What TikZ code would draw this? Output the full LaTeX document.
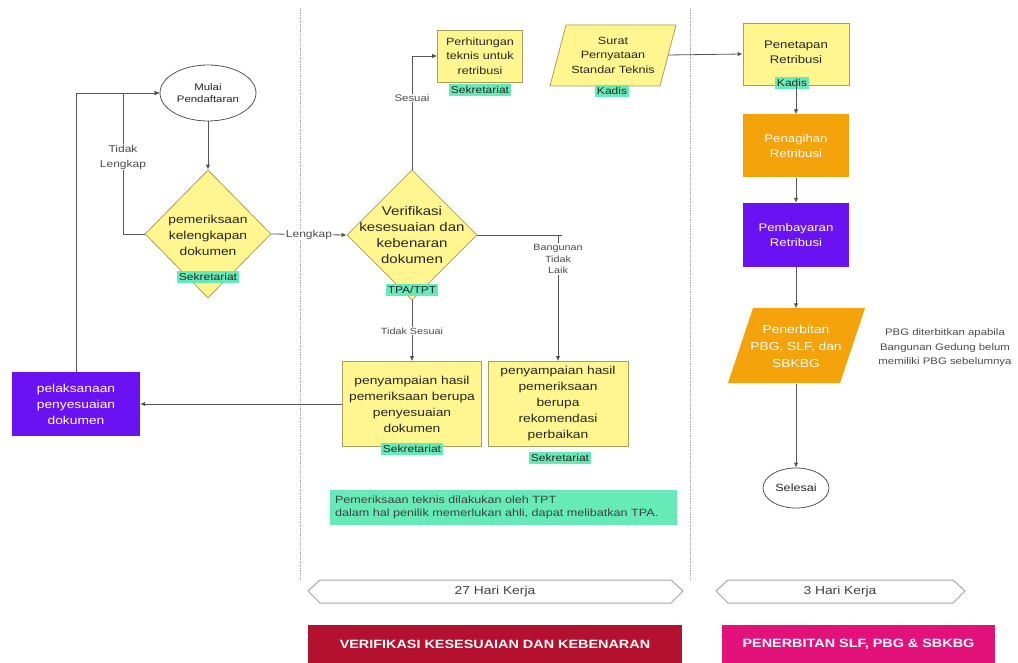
\documentclass[tikz,border=0pt]{standalone}
\usepackage{fontspec}
\setmainfont{Liberation Sans}[FakeStretch=1.2]
\usetikzlibrary{shapes.geometric,arrows.meta,calc}
\definecolor{yfill}{HTML}{FFF68F}
\definecolor{yline}{HTML}{A89D5A}
\definecolor{gfill}{HTML}{66EBB8}
\definecolor{ofill}{HTML}{F5A30A}
\definecolor{pfill}{HTML}{6A12F2}
\definecolor{rfill}{HTML}{B3112E}
\definecolor{mfill}{HTML}{E3127A}
\definecolor{ln}{HTML}{555555}
\begin{document}
\begin{tikzpicture}[x=1pt,y=-1pt,
  every node/.style={align=center, text=black!85},
  fsA/.style={font=\fontsize{9}{11.5}\selectfont},
  fsB/.style={font=\fontsize{9.5}{12}\selectfont},
  fsC/.style={font=\fontsize{10}{13}\selectfont},
  fsD/.style={font=\fontsize{10.5}{13}\selectfont},
  fsE/.style={font=\fontsize{10.5}{14.5}\selectfont},
  fsF/.style={font=\fontsize{11}{15}\selectfont},
  fsG/.style={font=\fontsize{11.5}{16}\selectfont},
  fsH/.style={font=\fontsize{11.5}{16}\selectfont},
  fsI/.style={font=\fontsize{12.5}{15.8}\selectfont},
  yel/.style={draw=yline, fill=yfill, line width=0.8pt, inner sep=0pt},
  gl/.style={fill=gfill, inner sep=2pt, fsC},
  obox/.style={fill=ofill, inner sep=0pt, minimum width=106pt, minimum height=63pt, text=white, fsF},
  pbox/.style={fill=pfill, inner sep=0pt, text=white},
  dia/.style={shape=diamond, draw=yline, fill=yfill, line width=0.8pt, inner sep=0pt},
  term/.style={shape=ellipse, draw=ln, fill=white, line width=0.8pt, inner sep=0pt},
  arr/.style={draw=ln, line width=0.8pt, -{Latex[length=5pt,width=4.5pt]}},
  lin/.style={draw=ln, line width=0.8pt},
  elab/.style={fill=white, inner sep=1pt, text=black!70},
  sep/.style={draw=gray!70, densely dotted, line width=0.8pt},
  hexa/.style={draw=gray!70, line width=1pt, fill=white},
  band/.style={inner sep=0pt, text=white, font=\bfseries\fontsize{12}{14}\selectfont}
]
\useasboundingbox (0,0) rectangle (1018,663);

% separators
\draw[sep] (300,8) -- (300,580);
\draw[sep] (690,8) -- (690,580);

% left column
\node[term, minimum width=96pt, minimum height=56pt, fsB] (start) at (208,93) {Mulai\\Pendaftaran};
\node[dia, minimum width=126pt, minimum height=128pt] (d1) at (208,234) {};
\node[fsG] (d1t) at (208,235) {pemeriksaan\\kelengkapan\\dokumen};
\node[gl] (d1l) at (208,277) {Sekretariat};

\node[pbox, minimum width=128pt, minimum height=64pt, fsH] (pel) at (76,404) {pelaksanaan\\penyesuaian\\dokumen};

% middle column
\node[dia, minimum width=130pt, minimum height=130pt] (d2) at (412,235) {};
\node[fsI] (d2t) at (412,235) {Verifikasi\\kesesuaian dan\\kebenaran\\dokumen};
\node[gl] (d2l) at (412,290) {TPA/TPT};

\node[yel, minimum width=85pt, minimum height=52pt, fsE] (perh) at (480,56) {Perhitungan\\teknis untuk\\retribusi};
\node[gl] (perhl) at (480,90) {Sekretariat};

% parallelogram Surat
\fill[yfill] (550,86) -- (566,25) -- (676,25) -- (660,86) -- cycle;
\draw[yline, line width=0.8pt] (550,86) -- (566,25) -- (676,25) -- (660,86) -- cycle;
\node[inner sep=0pt, minimum width=110pt, minimum height=60pt, fsE] (surat) at (613,55) {Surat\\Pernyataan\\Standar Teknis};
\node[gl] (suratl) at (612,91) {Kadis};

\node[yel, minimum width=139pt, minimum height=85pt, fsH] (h1) at (412,404) {penyampaian hasil\\pemeriksaan berupa\\penyesuaian\\dokumen};
\node[gl] (h1l) at (412,449) {Sekretariat};
\node[yel, minimum width=140pt, minimum height=85pt, fsH] (h2) at (558,404) {penyampaian hasil\\pemeriksaan\\berupa\\rekomendasi\\perbaikan};
\node[gl] (h2l) at (560,458) {Sekretariat};

\node[fill=gfill, inner sep=0pt, minimum width=347pt, minimum height=35pt] (note) at (503.5,507.5) {};
\node[inner sep=0pt, text width=337pt, align=left, fsD, text=black!75] (notet) at (note) {Pemeriksaan teknis dilakukan oleh TPT\\dalam hal penilik memerlukan ahli, dapat melibatkan TPA.};

% right column
\node[yel, minimum width=106pt, minimum height=62pt] (pen) at (796,54) {};
\node[fsF] (pent) at (796,52) {Penetapan\\Retribusi};
\node[gl] (penl) at (792,83) {Kadis};
\node[obox] (tag) at (796,146) {Penagihan\\Retribusi};
\node[pbox, minimum width=106pt, minimum height=64pt, fsF] (bayar) at (796,235) {Pembayaran\\Retribusi};

\fill[ofill] (728,383) -- (753,308) -- (865,308) -- (840,383) -- cycle;
\node[inner sep=0pt, minimum width=112pt, minimum height=75pt, text=white, font=\fontsize{11.5}{17}\selectfont] (terbit) at (796,346) {Penerbitan\\PBG, SLF, dan\\SBKBG};
\node[term, minimum width=66pt, minimum height=40pt, fsE] (end) at (796,488) {Selesai};

\node[font=\fontsize{9.5}{14.5}\selectfont, text=black!70] (ket) at (945,348) {PBG diterbitkan apabila\\Bangunan Gedung belum\\memiliki PBG sebelumnya};

% connectors
\draw[arr] (start) -- (d1);
\coordinate (lk) at (123,93);
\draw[arr] (d1.west) -| (lk) -- (start.west);
\node[elab, font=\fontsize{10}{15}\selectfont] (tl) at (123,157) {Tidak\\Lengkap};
\draw[arr] (pel.north) |- (start.west);
\draw[arr] (d1.east) -- node[elab, fsC] (lg) {Lengkap} (d2.west);
\draw[arr] (d2.north) |- (perh.west);
\node[elab, fsB] (ss) at (412,98) {Sesuai};
\draw[arr] (surat.east) -- (pen.west);
\draw[arr] (pen) -- (tag);
\draw[arr] (tag) -- (bayar);
\draw[arr] (bayar) -- (terbit);
\draw[arr] (terbit) -- (end);
\coordinate (bt) at (h2.north |- d2.east);
\draw[lin] (d2.east) -- ($(bt)+(4,0)$);
\draw[arr] (bt) -- (h2.north);
\node[elab, fsA] (btl) at (558,259) {Bangunan\\Tidak\\Laik};
\draw[arr] (d2.south) -- (d2.south |- h1.north);
\node[elab, fsA] (tsl) at (412,331) {Tidak Sesuai};
\draw[arr] (h1.west) -- (pel.east);

% bottom bands
\draw[hexa] (308,591) -- (320,580) -- (671,580) -- (683,591) -- (671,603) -- (320,603) -- cycle;
\node[fsG, text=black!75] (hk1) at (495,592) {27 Hari Kerja};
\draw[hexa] (716,591) -- (728,580) -- (953,580) -- (965,591) -- (953,603) -- (728,603) -- cycle;
\node[fsG, text=black!75] (hk2) at (840,592) {3 Hari Kerja};

\node[band, fill=rfill, minimum width=374pt, minimum height=38pt] (vb) at (495,644) {VERIFIKASI KESESUAIAN DAN KEBENARAN};
\node[band, fill=mfill, minimum width=273pt, minimum height=38pt] (pb) at (858.5,644) {PENERBITAN SLF, PBG \& SBKBG};
\end{tikzpicture}
\end{document}
